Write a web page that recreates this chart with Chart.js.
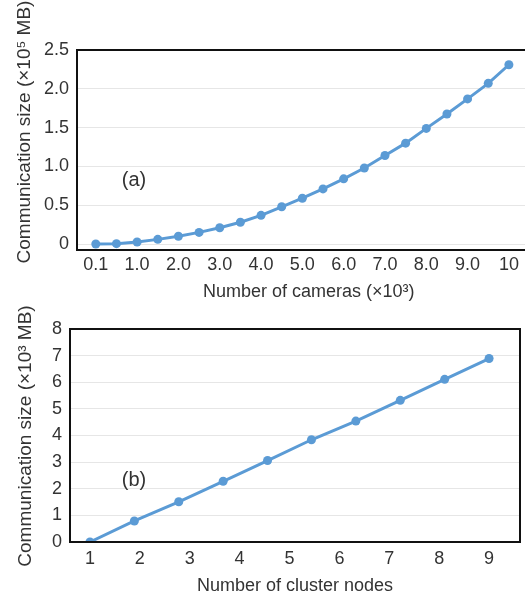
<!DOCTYPE html>
<html><head><meta charset="utf-8">
<script src="https://cdn.jsdelivr.net/npm/chart.js@4"></script>
<style>
html,body{margin:0;padding:0;background:#fff;overflow:hidden;}
#wrap{position:relative;width:525px;height:599px;overflow:hidden;background:#fff;}
#ca{position:absolute;left:0;top:0;width:545px;height:303px;}
#cb{position:absolute;left:0;top:300px;width:525px;height:299px;}
</style></head><body>
<div id="wrap"><canvas id="ca" width="545" height="303"></canvas><canvas id="cb" width="525" height="299"></canvas></div>
<script>
// Panel (a)
const cameraLabels = ['0.1','0.5','1.0','1.5','2.0','2.5','3.0','3.5','4.0','4.5','5.0','5.5','6.0','6.5','7.0','7.5','8.0','8.5','9.0','9.5','10'];
const cameraCommSize = [0, 0.005, 0.026, 0.06, 0.10, 0.15, 0.21, 0.28, 0.37, 0.48, 0.59, 0.71, 0.84, 0.98, 1.14, 1.30, 1.49, 1.675, 1.87, 2.07, 2.31];
const yTicksA = [0, 0.5, 1.0, 1.5, 2.0, 2.5];
// Panel (b)
const clusterNodes = [1, 1.89, 2.78, 3.67, 4.56, 5.44, 6.33, 7.22, 8.11, 9];
const clusterCommSize = [0, 0.79, 1.51, 2.28, 3.06, 3.84, 4.54, 5.32, 6.11, 6.89];
const xTicksB = [1, 2, 3, 4, 5, 6, 7, 8, 9];
const yTicksB = [0, 1, 2, 3, 4, 5, 6, 7, 8];

const FAM = '"Liberation Sans", Arial, sans-serif';
const TXT = '#333333';
const LINE = '#5b9bd5';
const font18 = {family: FAM, size: 18};

function boxPlugin(drawRight, label, yTitle, titleX, titleY) {
  return {
    id: 'box' + label,
    afterDraw(chart) {
      const {ctx, chartArea: a} = chart;
      ctx.save();
      ctx.strokeStyle = '#111';
      ctx.lineWidth = 2;
      ctx.beginPath();
      ctx.moveTo(a.left, a.top); ctx.lineTo(drawRight ? a.right : a.right + 5, a.top);
      if (drawRight) { ctx.lineTo(a.right, a.bottom); } else { ctx.moveTo(a.right + 5, a.bottom); }
      ctx.lineTo(a.left, a.bottom); ctx.lineTo(a.left, a.top - 1);
      ctx.stroke();
      ctx.fillStyle = TXT;
      ctx.font = '20px ' + FAM;
      ctx.textAlign = 'center';
      ctx.textBaseline = 'middle';
      ctx.fillText(label, 134, 180);
      ctx.translate(titleX, titleY);
      ctx.rotate(-Math.PI / 2);
      ctx.font = '19px ' + FAM;
      ctx.fillText(yTitle, 0, 0);
      ctx.restore();
    }
  };
}

new Chart(document.getElementById('ca'), {
  type: 'line',
  data: {datasets: [{
    data: cameraCommSize.map((v, i) => ({x: i, y: v})),
    borderColor: LINE, backgroundColor: LINE, borderWidth: 3,
    pointRadius: 4.5, pointBorderWidth: 0, pointBackgroundColor: LINE, tension: 0
  }]},
  options: {
    responsive: false, animation: false,
    plugins: {legend: {display: false}, tooltip: {enabled: false}},
    layout: {padding: {top: 50, left: 0, right: 0, bottom: 0}},
    scales: {
      x: {
        type: 'linear', min: -0.91, max: 21.53,
        grid: {display: false, drawTicks: false}, border: {display: false},
        afterBuildTicks: s => { s.ticks = cameraLabels.map((l, i) => ({value: i})).filter((t, i) => i % 2 === 0); },
        ticks: {autoSkip: false, maxRotation: 0, padding: 4, font: font18, color: TXT,
          callback: v => cameraLabels[v]},
        title: {display: true, text: 'Number of cameras (×10³)', font: font18, color: TXT, padding: {top: 0, bottom: 0}},
        afterFit: s => { s.height = 53; }
      },
      y: {
        min: -0.077, max: 2.5,
        afterBuildTicks: s => { s.ticks = yTicksA.map(v => ({value: v})); },
        grid: {color: '#e6e6e6', drawTicks: false}, border: {display: false},
        ticks: {padding: 8, font: font18, color: TXT, callback: v => v === 0 ? '0' : v.toFixed(1)},
        afterFit: s => { s.width = 77; }
      }
    }
  },
  plugins: [boxPlugin(false, '(a)', 'Communication size (×10⁵ MB)', 25, 132)]
});

new Chart(document.getElementById('cb'), {
  type: 'line',
  data: {datasets: [{
    data: clusterCommSize.map((v, i) => ({x: clusterNodes[i], y: v})),
    borderColor: LINE, backgroundColor: LINE, borderWidth: 3,
    pointRadius: 4.5, pointBorderWidth: 0, pointBackgroundColor: LINE, tension: 0
  }]},
  options: {
    responsive: false, animation: false,
    plugins: {legend: {display: false}, tooltip: {enabled: false}},
    layout: {padding: {top: 29, left: 0, right: 5, bottom: 0}},
    scales: {
      x: {
        type: 'linear', min: 0.6, max: 9.62,
        grid: {display: false, drawTicks: false}, border: {display: false},
        afterBuildTicks: s => { s.ticks = xTicksB.map(v => ({value: v})); },
        ticks: {autoSkip: false, maxRotation: 0, padding: 6, font: font18, color: TXT},
        title: {display: true, text: 'Number of cluster nodes', font: font18, color: TXT, padding: {top: 0, bottom: 2.4}},
        afterFit: s => { s.height = 57; }
      },
      y: {
        min: 0, max: 8,
        afterBuildTicks: s => { s.ticks = yTicksB.map(v => ({value: v})); },
        grid: {color: '#e6e6e6', drawTicks: false}, border: {display: false},
        ticks: {padding: 8, font: font18, color: TXT},
        afterFit: s => { s.width = 70; }
      }
    }
  },
  plugins: [boxPlugin(true, '(b)', 'Communication size (×10³ MB)', 26, 136)]
});
</script>
</body></html>
